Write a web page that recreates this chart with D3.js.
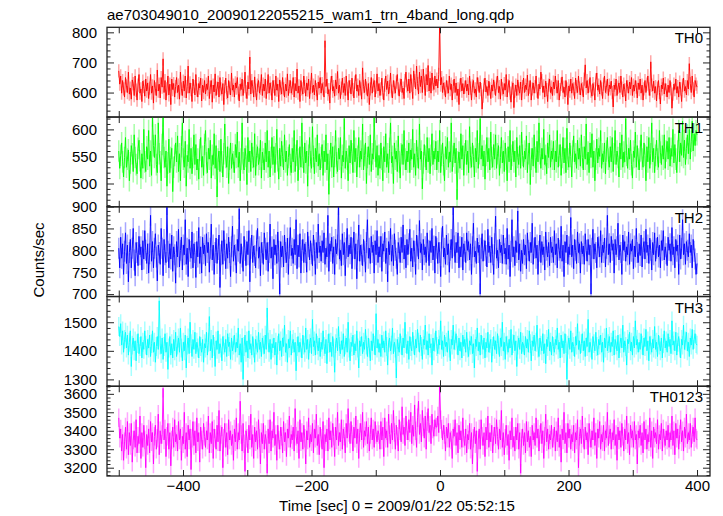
<!DOCTYPE html>
<html><head><meta charset="utf-8">
<script src="https://cdn.jsdelivr.net/npm/d3@7"></script>
<style>
body{margin:0;background:#fff}
text{font-family:"Liberation Sans",Arial,Helvetica,sans-serif}
</style>
</head><body>
<svg id="chart" width="723" height="516"></svg>
<script>
const titleText = "ae703049010_20090122055215_wam1_trn_4band_long.qdp";
const xLabelText = "Time [sec] 0 = 2009/01/22 05:52:15";
const yLabelText = "Counts/sec";
const bandNames = ["TH0", "TH1", "TH2", "TH3", "TH0123"];
const bandColors = ["#ff0000", "#00ff00", "#0000ff", "#00ffff", "#ff00ff"];
const tStart = -500, tBin = 1.5;

const th0 = [
672,628,655,598,640,612,585,650,622,600,668,595,615,578,642,630,590,655,608,575,625,660,598,612,570,638,620,588,645,605,
632,580,615,660,598,622,565,640,612,590,675,605,628,582,650,618,712,600,640,575,612,655,592,628,560,645,610,630,585,620,
650,600,625,578,668,612,590,638,605,655,582,620,688,598,632,610,570,645,620,592,660,608,585,630,615,648,572,625,600,640,
595,628,610,655,580,618,640,568,625,602,662,590,615,635,585,650,612,595,630,560,620,648,600,582,640,615,592,665,608,625,
585,632,615,650,598,572,628,610,645,590,620,668,602,580,635,612,718,595,640,620,585,652,608,575,625,640,598,615,660,590,
628,605,645,580,618,660,598,632,612,575,640,620,590,655,608,628,570,642,615,595,650,612,585,628,605,662,590,620,640,598,
615,650,585,630,605,678,598,622,570,640,612,595,655,620,588,632,608,645,580,618,665,600,625,592,640,610,575,635,615,650,
598,630,612,585,772,620,645,595,610,565,632,655,605,620,588,642,612,670,598,625,580,615,648,600,630,590,655,612,575,640,
620,595,648,610,582,635,660,605,625,590,640,612,578,682,620,600,645,615,588,630,560,612,650,598,625,640,585,618,662,605,
630,590,612,648,600,575,625,655,610,638,595,620,665,605,582,640,618,598,635,660,612,588,625,645,600,615,580,640,668,622,
605,645,598,660,625,580,672,640,612,688,630,595,668,620,655,600,678,632,590,660,625,690,605,648,598,665,628,610,655,622,
645,615,660,838,625,650,600,632,612,585,640,618,598,655,610,628,575,620,645,600,632,590,612,560,625,648,605,630,595,618,
640,605,628,592,655,615,575,622,640,598,612,585,650,628,600,635,610,545,588,625,648,602,620,590,638,612,580,625,605,642,
615,590,632,655,600,620,578,645,612,595,630,608,660,585,622,640,598,568,615,632,550,605,625,590,642,612,598,635,575,620,
648,600,625,610,658,590,618,640,575,612,632,598,620,655,605,580,628,612,668,640,600,622,585,638,610,570,625,645,600,618,
590,635,612,655,620,598,640,575,610,628,652,600,618,585,640,612,560,622,605,645,598,630,612,580,648,620,600,655,615,592,
630,612,585,645,692,615,640,598,622,650,605,588,630,612,575,642,665,608,625,595,640,612,580,628,655,600,618,645,590,625,
612,638,600,552,625,610,645,590,618,632,600,655,615,585,628,610,572,640,620,598,635,612,650,590,625,605,640,618,582,632,
610,645,598,625,575,612,640,600,628,655,612,590,702,625,605,638,598,620,572,615,640,600,562,625,612,648,595,630,608,585,
625,600,640,612,548,595,628,610,645,598,620,585,635,612,570,625,648,605,620,592,640,612,696,630,600,655,612,585,640,628,
618];

const th1 = [
560,528,552,575,540,512,548,585,530,545,562,505,538,570,555,522,590,548,535,518,565,580,542,510,555,528,600,540,522,568,
545,598,532,560,515,625,570,548,590,535,520,612,555,540,505,572,625,548,530,560,495,538,582,520,548,565,485,530,552,575,
540,588,522,555,505,568,612,545,530,578,495,552,540,600,528,565,518,548,590,535,572,525,545,508,562,585,530,550,515,572,
598,538,520,565,545,580,510,552,535,592,528,570,475,545,560,522,582,540,512,555,610,548,530,568,500,545,575,528,555,540,
520,572,548,595,530,558,505,545,612,538,525,565,550,498,585,540,560,522,575,548,530,592,515,552,568,535,545,580,510,558,
545,525,575,540,598,530,560,512,548,585,535,568,520,555,600,542,508,565,532,578,550,525,590,540,560,515,548,572,535,520,
565,540,598,522,552,580,505,545,568,530,612,548,520,575,538,560,495,552,585,540,528,605,550,518,565,540,590,532,555,525,
548,572,515,560,540,590,525,555,480,542,575,530,568,512,550,598,538,522,565,545,585,510,552,540,620,528,560,545,505,570,
538,580,555,520,598,540,565,512,550,585,530,560,545,610,525,552,575,500,548,568,535,590,522,555,545,625,560,530,570,515,
552,528,575,545,505,568,540,592,530,555,520,565,612,538,550,500,575,545,560,522,588,540,510,555,572,535,598,545,525,560,
540,575,520,562,545,600,530,555,515,580,548,528,610,545,560,490,538,572,550,525,585,540,565,518,552,592,535,560,545,578,
525,560,540,598,520,552,575,535,505,568,545,585,530,558,540,612,522,550,575,538,565,470,540,558,528,592,545,570,515,555,
580,535,560,520,605,548,530,575,550,512,565,540,598,528,555,620,545,570,532,560,508,552,585,540,565,525,595,548,530,572,
545,590,528,555,570,515,548,585,538,560,522,575,545,505,568,540,598,525,552,578,540,560,512,585,548,535,570,528,595,552,
530,560,545,588,520,555,575,498,545,565,532,590,548,520,578,540,612,555,528,565,545,600,535,552,518,575,548,590,530,560,
545,578,525,560,540,598,530,552,572,515,548,585,538,565,520,602,545,530,575,550,512,560,588,540,555,528,580,545,565,532,
590,548,525,568,545,610,535,558,520,575,548,592,530,560,505,545,582,538,565,550,598,528,555,540,575,518,560,585,545,530,
568,540,585,522,555,598,535,560,548,512,575,545,590,530,558,540,620,552,528,565,545,580,535,510,560,548,595,530,570,545,
525,560,590,545,530,575,552,505,568,540,585,528,555,612,540,565,520,552,580,545,530,598,558,535,570,545,590,528,560,578,
545,585,532,565,550,600,538,572,545,520,560,598,540,575,552,615,548,580,535,565,590,555,600,545,578,615,560,592,570,598,
590];

const th2 = [
805,760,830,782,815,745,798,840,770,812,728,795,825,760,805,850,778,742,818,795,765,832,790,808,755,822,780,845,800,770,
815,748,792,880,775,820,760,805,838,785,730,812,795,768,850,805,742,825,790,772,905,798,760,815,780,835,752,808,790,725,
820,785,848,762,800,830,755,812,790,870,768,805,740,825,798,782,842,760,815,795,738,820,785,852,770,808,748,830,792,812,
765,838,795,818,750,805,860,778,812,745,795,828,770,802,835,715,790,822,768,845,800,758,815,782,830,795,740,808,855,775,
812,790,748,825,798,895,770,815,785,752,832,800,765,820,790,845,728,805,835,772,810,788,760,822,850,782,808,742,818,795,
768,840,805,778,818,752,795,860,782,808,735,825,790,812,770,842,798,700,820,785,810,762,835,795,772,828,745,805,852,788,
805,770,825,790,870,758,812,785,838,748,800,825,772,815,795,750,842,808,778,822,792,765,835,800,745,818,782,860,795,810,
775,822,795,840,768,805,785,880,752,815,798,830,770,808,745,825,792,812,905,780,800,765,838,790,818,742,805,850,785,812,
792,830,758,805,842,780,815,735,800,858,775,812,790,765,825,798,750,818,870,782,805,770,832,795,812,748,822,790,845,772,
808,785,832,752,815,798,842,770,805,728,820,790,850,775,812,765,838,800,782,745,818,805,772,830,795,858,780,812,760,825,
790,815,848,775,805,762,822,798,745,835,810,780,868,795,815,755,825,790,808,772,840,800,765,822,795,850,778,810,748,832,
805,770,818,795,740,828,855,785,805,768,835,790,815,750,800,825,782,905,810,772,818,795,840,760,808,785,830,755,815,798,
772,840,800,820,778,815,745,808,862,785,798,770,828,795,812,700,805,838,775,800,822,788,762,848,795,810,772,830,790,745,
815,878,782,800,760,825,795,812,770,835,792,805,768,850,780,812,740,798,870,785,808,765,822,795,890,778,815,752,800,770,
825,790,812,758,840,800,775,818,795,862,768,805,830,782,812,745,798,835,772,820,790,808,755,842,800,785,818,765,830,795,
808,772,845,790,815,760,828,800,782,855,775,812,740,820,795,835,768,808,790,875,785,812,758,825,800,770,842,795,815,748,
820,792,810,768,838,800,775,825,790,812,700,805,848,780,815,795,760,830,808,785,845,772,812,795,828,762,805,880,790,815,
772,832,800,815,748,825,790,808,862,778,812,795,745,835,800,820,775,808,790,842,768,815,798,825,758,810,785,850,795,772,
815,788,835,762,805,820,780,848,795,812,770,828,800,755,818,790,840,775,805,830,785,812,760,822,800,845,778,808,792,765,
830,800,815,775,852,790,808,760,825,798,812,745,835,780,805,870,790,815,768,820,800,785,838,795,812,760,825,798,780,745,
770];

const th3 = [
1485,1450,1495,1420,1470,1395,1440,1465,1410,1455,1385,1430,1470,1345,1420,1445,1400,1435,1365,1425,1460,1390,1415,1450,1375,1430,1405,1470,1420,1385,
1440,1410,1455,1380,1425,1470,1395,1430,1360,1415,1450,1405,1575,1420,1390,1445,1370,1415,1460,1395,1430,1335,1410,1450,1385,1425,1375,1440,1400,1465,
1380,1420,1445,1395,1480,1410,1365,1430,1400,1455,1340,1420,1445,1390,1500,1425,1380,1440,1405,1465,1390,1430,1410,1375,1450,1415,1395,1440,1360,1425,
1410,1465,1385,1430,1520,1400,1440,1375,1455,1415,1345,1435,1405,1470,1390,1425,1410,1365,1450,1420,1395,1440,1380,1460,1415,1430,1370,1445,1400,1420,
1455,1395,1430,1410,1480,1385,1425,1360,1445,1300,1415,1455,1395,1435,1375,1470,1405,1425,1385,1450,1410,1360,1440,1420,1395,1465,1405,1430,1380,1445,
1420,1390,1455,1405,1550,1430,1395,1440,1370,1425,1410,1445,1385,1430,1350,1420,1460,1400,1435,1380,1445,1415,1490,1395,1425,1360,1440,1410,1470,1385,
1425,1440,1395,1430,1330,1415,1450,1395,1430,1410,1375,1455,1420,1395,1480,1405,1440,1370,1425,1445,1390,1510,1415,1435,1385,1460,1420,1400,1445,1380,
1430,1405,1470,1415,1390,1440,1355,1425,1460,1395,1430,1380,1450,1410,1325,1425,1445,1400,1485,1415,1390,1435,1405,1460,1380,1420,1445,1395,1500,1410,
1365,1430,1415,1455,1385,1425,1400,1470,1410,1340,1435,1415,1450,1390,1430,1405,1475,1420,1380,1445,1410,1365,1435,1400,1460,1420,1385,1530,1410,1440,
1395,1425,1380,1455,1410,1435,1395,1470,1415,1350,1430,1445,1400,1420,1480,1390,1430,1410,1305,1440,1415,1395,1460,1420,1385,1445,1410,1500,1425,1390,
1435,1370,1450,1415,1400,1465,1420,1385,1440,1410,1475,1430,1395,1455,1415,1370,1440,1420,1490,1405,1435,1385,1460,1410,1425,1350,1445,1400,1430,1470,
1415,1390,1440,1420,1505,1405,1435,1380,1455,1415,1430,1395,1470,1410,1365,1440,1420,1490,1405,1435,1460,1420,1385,1445,1400,1430,1375,1455,1415,1440,
1395,1465,1410,1380,1435,1420,1450,1390,1425,1340,1440,1415,1480,1400,1430,1385,1455,1420,1405,1445,1375,1430,1410,1465,1395,1425,1440,1360,1415,1450,
1405,1435,1390,1460,1420,1380,1445,1415,1500,1400,1430,1370,1450,1420,1395,1440,1410,1475,1385,1425,1455,1400,1435,1345,1420,1445,1405,1465,1390,1430,
1420,1385,1450,1410,1440,1395,1470,1425,1365,1435,1415,1455,1400,1430,1490,1410,1380,1445,1420,1400,1460,1390,1425,1355,1440,1415,1475,1400,1430,1385,
1450,1415,1395,1440,1420,1480,1405,1430,1375,1455,1410,1435,1390,1460,1425,1300,1420,1445,1405,1470,1395,1430,1415,1380,1450,1420,1495,1405,1435,1390,
1425,1460,1400,1435,1380,1445,1415,1510,1395,1430,1410,1370,1450,1425,1400,1465,1415,1385,1440,1420,1455,1395,1430,1360,1445,1410,1480,1400,1425,1450,
1395,1430,1415,1470,1385,1440,1420,1400,1455,1375,1425,1445,1410,1490,1395,1435,1415,1350,1440,1425,1465,1400,1430,1385,1450,1410,1505,1420,1440,1395,
1430,1405,1460,1420,1385,1445,1415,1475,1400,1435,1365,1450,1420,1395,1440,1410,1485,1405,1430,1380,1455,1420,1400,1445,1375,1425,1470,1410,1435,1395,
1460,1415,1440,1390,1505,1420,1435,1400,1465,1385,1430,1450,1410,1375,1440,1420,1490,1405,1435,1465,1400,1430,1380,1445,1420,1475,1405,1440,1460,1425,
1420];

const th0123 = [
3470,3360,3410,3290,3380,3240,3340,3420,3300,3450,3270,3390,3320,3440,3230,3350,3400,3310,3460,3280,3370,3330,3480,3250,3390,3310,3430,3350,3200,3380,
3320,3410,3280,3450,3340,3390,3220,3370,3430,3300,3360,3490,3270,3400,3330,3380,3630,3350,3410,3260,3370,3440,3300,3390,3210,3350,3420,3310,3460,3340,
3380,3290,3450,3350,3410,3240,3370,3330,3500,3300,3390,3260,3430,3350,3410,3190,3360,3450,3320,3400,3280,3470,3340,3390,3230,3420,3350,3300,3440,3370,
3310,3400,3350,3480,3280,3390,3330,3450,3250,3410,3360,3300,3430,3340,3510,3290,3380,3420,3200,3360,3440,3310,3390,3270,3460,3350,3400,3320,3380,3240,
3410,3340,3470,3300,3390,3350,3560,3380,3290,3440,3330,3180,3400,3360,3280,3430,3350,3490,3310,3380,3250,3420,3340,3400,3300,3460,3360,3220,3390,3330,
3440,3300,3380,3350,3170,3410,3330,3460,3290,3400,3360,3500,3320,3380,3240,3430,3350,3300,3420,3370,3280,3450,3340,3390,3260,3410,3360,3480,3310,3380,
3350,3420,3290,3520,3370,3330,3400,3250,3460,3340,3390,3300,3430,3360,3220,3400,3350,3470,3310,3380,3340,3440,3280,3410,3360,3490,3320,3380,3270,3420,
3360,3300,3450,3200,3380,3340,3410,3290,3470,3350,3400,3310,3440,3370,3260,3420,3350,3500,3320,3390,3340,3460,3300,3410,3370,3280,3440,3360,3520,3390,
3330,3450,3380,3290,3420,3360,3480,3330,3410,3250,3390,3440,3350,3500,3310,3400,3370,3450,3330,3420,3290,3380,3470,3350,3410,3310,3450,3380,3340,3400,
3380,3300,3450,3350,3420,3260,3470,3360,3400,3310,3490,3380,3330,3440,3350,3510,3390,3300,3430,3370,3290,3460,3400,3340,3530,3380,3420,3320,3480,3400,
3350,3460,3390,3500,3330,3430,3370,3540,3400,3310,3470,3560,3380,3440,3340,3510,3420,3360,3480,3300,3450,3520,3390,3430,3330,3490,3410,3370,3460,3420,
3420,3480,3390,3650,3460,3410,3350,3430,3380,3290,3420,3360,3440,3310,3390,3350,3250,3410,3370,3460,3320,3390,3280,3430,3350,3400,3310,3470,3360,3320,
3410,3280,3380,3350,3440,3300,3390,3220,3360,3420,3330,3400,3180,3350,3410,3300,3460,3370,3320,3390,3260,3420,3350,3480,3310,3390,3340,3430,3280,3370,
3420,3330,3460,3370,3300,3410,3350,3510,3310,3390,3270,3360,3430,3320,3380,3240,3400,3350,3470,3310,3370,3290,3420,3350,3440,3300,3390,3170,3360,3410,
3320,3390,3280,3450,3340,3400,3310,3370,3260,3430,3350,3390,3320,3470,3360,3410,3290,3380,3440,3330,3400,3250,3370,3490,3340,3410,3300,3380,3350,3430,
3310,3360,3420,3290,3400,3340,3470,3310,3380,3230,3410,3350,3500,3330,3390,3280,3440,3360,3410,3300,3380,3340,3430,3280,3390,3350,3460,3200,3370,3410,
3330,3480,3360,3300,3420,3350,3390,3270,3440,3360,3310,3400,3350,3470,3320,3390,3250,3410,3360,3450,3300,3380,3340,3430,3290,3400,3360,3500,3320,3380,
3410,3300,3390,3350,3460,3320,3380,3240,3420,3350,3400,3310,3440,3370,3290,3410,3350,3480,3330,3390,3270,3430,3360,3400,3310,3450,3350,3380,3220,3400,
3360,3430,3320,3390,3280,3450,3350,3410,3300,3380,3340,3470,3310,3400,3250,3420,3360,3390,3330,3460,3300,3380,3350,3440,3290,3410,3360,3320,3400,3350,
3430,3310,3390,3350,3480,3320,3400,3270,3440,3360,3410,3300,3380,3460,3340,3400,3290,3420,3360,3490,3330,3390,3350,3440,3310,3380,3420,3340,3470,3360,
3350];

const bandSeries = [th0, th1, th2, th3, th0123];
const bandErrors = [22, 20, 24, 33, 50];
const yDomains = [[518.7, 816.7], [457, 622.8], [694.5, 899.5], [1276, 1590], [3155, 3641]];
const yMajorTicks = [[600, 700, 800], [500, 550, 600], [700, 750, 800, 850, 900], [1300, 1400, 1500], [3200, 3300, 3400, 3500, 3600]];
const yMinorSteps = [20, 10, 10, 20, 20];
const xDomain = [-518.3, 420.2];
const xTickValues = [-500, -400, -300, -200, -100, 0, 100, 200, 300, 400];
const xTickLabels = [-400, -200, 0, 200, 400];

// layout
const plotL = 107, plotR = 710, plotT = 27.3, plotB = 476;
const nP = bandNames.length;
const pH = (plotB - plotT) / nP;
const frameColor = "#222";

const svg = d3.select("#chart");
const x = d3.scaleLinear().domain(xDomain).range([plotL, plotR]);

const fmt = d => d < 0 ? "\u2212" + Math.abs(d) : String(d);
const styleText = sel => sel.attr("font-size", 15).attr("fill", "#000")
  .style("font-family", '"Liberation Sans",Arial,sans-serif');

bandSeries.forEach((vals, p) => {
  const y0 = plotT + p * pH, y1 = y0 + pH;
  const y = d3.scaleLinear().domain(yDomains[p]).range([y1, y0]);
  const data = vals.map((v, i) => ({t: tStart + i * tBin, v: v}));
  const err = bandErrors[p];
  const col = bandColors[p];

  const clipId = "clip" + p;
  svg.append("clipPath").attr("id", clipId).append("rect")
    .attr("x", plotL).attr("y", y0).attr("width", plotR - plotL).attr("height", pH);

  const g = svg.append("g").attr("clip-path", `url(#${clipId})`);
  g.selectAll("line.err").data(data).join("line").attr("class", "err")
    .attr("x1", d => x(d.t)).attr("x2", d => x(d.t))
    .attr("y1", d => y(d.v - err)).attr("y2", d => y(d.v + err))
    .attr("stroke", col).attr("stroke-opacity", 0.35).attr("stroke-width", 1.5);
  g.append("path").datum(data)
    .attr("d", d3.line().x(d => x(d.t)).y(d => y(d.v)))
    .attr("fill", "none").attr("stroke", col).attr("stroke-width", 0.9);

  const minor = d3.range(Math.ceil(yDomains[p][0] / yMinorSteps[p]) * yMinorSteps[p], yDomains[p][1], yMinorSteps[p])
    .filter(v => !yMajorTicks[p].includes(v));
  const addAxis = (tr, axis) => {
    const a = svg.append("g").attr("transform", tr).style("color", frameColor).call(axis);
    a.select(".domain").remove();
    return a;
  };
  const axL = addAxis(`translate(${plotL},0)`,
    d3.axisLeft(y).tickValues(yMajorTicks[p]).tickSizeInner(-7).tickSizeOuter(0).tickPadding(10).tickFormat(fmt));
  styleText(axL.selectAll("text"));
  addAxis(`translate(${plotL},0)`, d3.axisLeft(y).tickValues(minor).tickSizeInner(-3.5).tickSizeOuter(0).tickFormat(""));
  addAxis(`translate(${plotR},0)`, d3.axisRight(y).tickValues(yMajorTicks[p]).tickSizeInner(-7).tickSizeOuter(0).tickFormat(""));
  addAxis(`translate(${plotR},0)`, d3.axisRight(y).tickValues(minor).tickSizeInner(-3.5).tickSizeOuter(0).tickFormat(""));
  addAxis(`translate(0,${y0})`, d3.axisTop(x).tickValues(xTickValues).tickSizeInner(-6).tickSizeOuter(0).tickFormat(""));
  const axB = addAxis(`translate(0,${y1})`,
    d3.axisBottom(x).tickValues(xTickValues).tickSizeInner(-6).tickSizeOuter(0).tickPadding(4.5)
      .tickFormat(d => (p === nP - 1 && xTickLabels.includes(d)) ? fmt(d) : ""));
  styleText(axB.selectAll("text"));

  svg.append("rect").attr("x", plotL).attr("y", y0).attr("width", plotR - plotL).attr("height", pH)
    .attr("fill", "none").attr("stroke", frameColor).attr("stroke-width", 1.3);

  styleText(svg.append("text").attr("x", 703).attr("y", y0 + 16).attr("text-anchor", "end").text(bandNames[p]));
});

styleText(svg.append("text").attr("x", plotL).attr("y", 20).text(titleText));
styleText(svg.append("text").attr("x", 397).attr("y", 511).attr("text-anchor", "middle").text(xLabelText));
styleText(svg.append("text").attr("transform", "translate(43.5,260) rotate(-90)").attr("text-anchor", "middle").text(yLabelText));
</script>
</body></html>
